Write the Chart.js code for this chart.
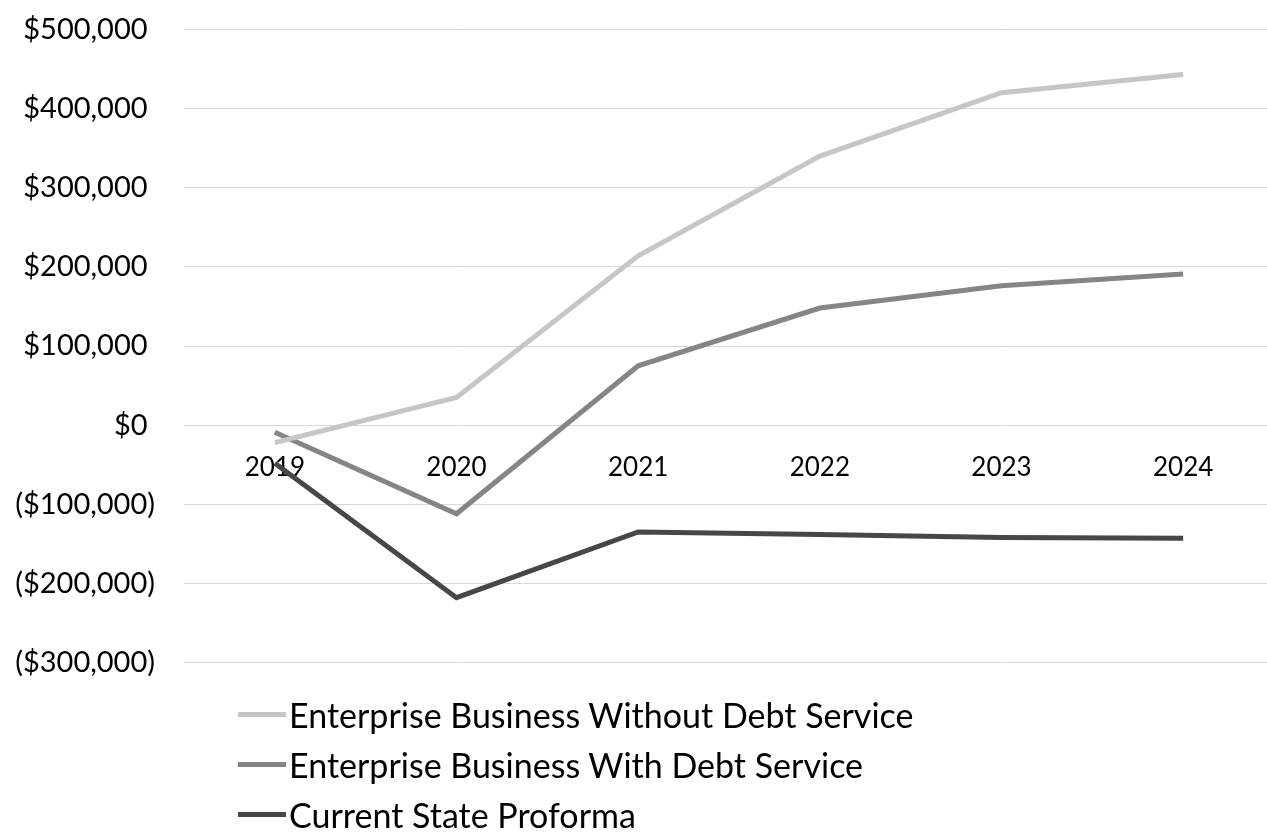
<!DOCTYPE html>
<html>
<head>
<meta charset="utf-8">
<title>Enterprise Business cash flow</title>
<script src="https://cdn.jsdelivr.net/npm/chart.js@4.4.1/dist/chart.umd.min.js"></script>
<style>
  html, body { margin: 0; padding: 0; background: #fff; overflow: hidden; }
  #wrap { position: relative; width: 1274px; height: 836px; }
  #chartBox { position: absolute; left: 0; top: -17px; width: 1274px; height: 726px; }
  #legend { position: absolute; left: 238px; top: 689px; font-family: Lato, sans-serif; font-size: 34px; color: #000; }
  .item { display: flex; align-items: center; height: 50px; white-space: nowrap; }
  .swatch { width: 48px; height: 5px; margin-right: 3px; }
</style>
</head>
<body>
<div id="wrap">
  <div id="chartBox"><canvas id="cashChart"></canvas></div>
  <div id="legend"></div>
</div>
<script>
const years = ['2019', '2020', '2021', '2022', '2023', '2024'];
const withoutDebt = [-22000, 35000, 214000, 340000, 420000, 443000];
const withDebt = [-9000, -112000, 75000, 148000, 176000, 191000];
const currentState = [-48000, -218000, -135000, -138000, -142000, -143000];
const seriesNames = ['Enterprise Business Without Debt Service', 'Enterprise Business With Debt Service', 'Current State Proforma'];
const seriesColors = ['#c6c6c6', '#858585', '#474747'];
const yMin = -300000, yMax = 500000, yStep = 100000;

function money(v) {
  const s = '$' + Math.abs(v).toLocaleString('en-US');
  return v < 0 ? '(' + s + ')' : s + ' ';
}

const chart = new Chart(document.getElementById('cashChart'), {
  type: 'line',
  data: {
    labels: years,
    datasets: [withoutDebt, withDebt, currentState].map((data, i) => ({
      label: seriesNames[i],
      data,
      borderColor: seriesColors[i],
      backgroundColor: seriesColors[i],
      borderWidth: 5,
      pointRadius: 0,
      tension: 0,
      order: i
    }))
  },
  options: {
    responsive: true,
    maintainAspectRatio: false,
    animation: false,
    layout: { padding: { top: 10, bottom: 17, left: 0, right: 0 } },
    plugins: { legend: { display: false }, tooltip: { enabled: false } },
    scales: {
      x: {
        position: { y: 0 },
        offset: true,
        grid: { display: false, drawTicks: false },
        border: { display: false },
        ticks: { color: '#000', font: { family: 'Lato, sans-serif', size: 26 }, padding: 27, maxRotation: 0 },
        afterFit: s => { s.height = 0; }
      },
      y: {
        min: yMin,
        max: yMax,
        grid: { color: '#d9d9d9', lineWidth: 1, drawTicks: false },
        border: { display: false },
        ticks: { stepSize: yStep, color: '#000', font: { family: 'Lato, sans-serif', size: 29 }, padding: 29, callback: v => money(v) },
        afterFit: s => { s.width = 184; }
      }
    }
  }
});

const legend = document.getElementById('legend');
chart.data.datasets.forEach(ds => {
  const row = document.createElement('div');
  row.className = 'item';
  const sw = document.createElement('span');
  sw.className = 'swatch';
  sw.style.background = ds.borderColor;
  const txt = document.createElement('span');
  txt.textContent = ds.label;
  row.append(sw, txt);
  legend.append(row);
});
</script>
</body>
</html>
